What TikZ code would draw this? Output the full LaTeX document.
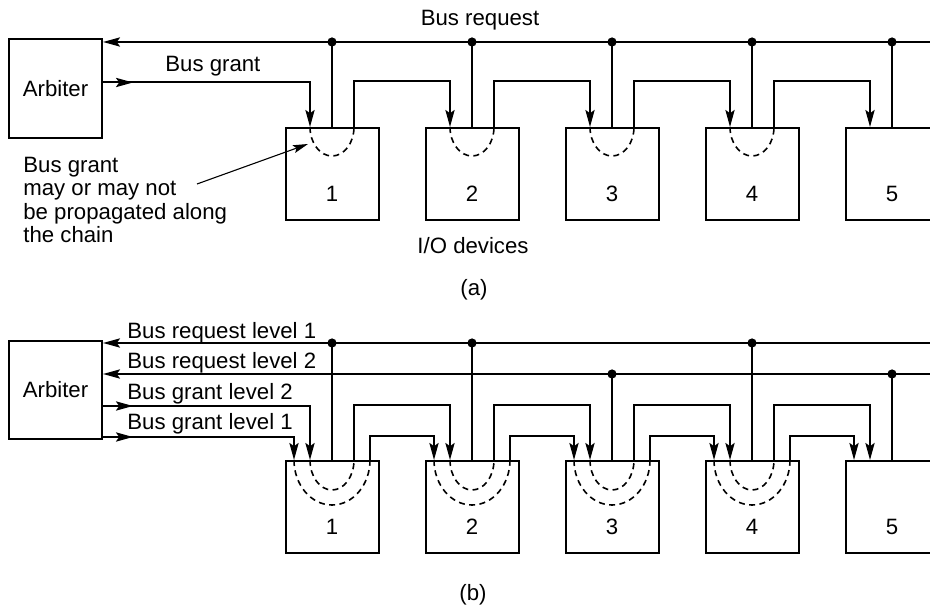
\documentclass[tikz,border=0pt]{standalone}
\usepackage{fontspec}
\setmainfont{Liberation Sans}
\usetikzlibrary{arrows.meta,calc,decorations.markings}
\tikzset{
  bus/.style={line width=1pt},
  arrowend/.style={-{Stealth[length=8.5pt,width=4.6pt,inset=1.6pt]}},
  midarrow/.style={postaction={decorate},
    decoration={markings, mark=at position 15pt with {\arrow{Stealth[length=8.5pt,width=4.6pt,inset=1.6pt]}}}},
  dev/.style={draw, line width=1pt, minimum width=46.5pt, minimum height=46pt, inner sep=0pt},
  arb/.style={draw, line width=1pt, minimum width=46.5pt, inner sep=0pt, font=\fontsize{11.1}{11.65}\selectfont},
  lbl/.style={inner sep=0pt, font=\fontsize{11.1}{11.65}\selectfont},
  dsh/.style={line width=0.8pt, dash pattern=on 3pt off 2.2pt},
  notearrow/.style={line width=0.55pt, -{Stealth[length=7.5pt,width=4pt,inset=1.4pt]}}
}
\begin{document}
\begin{tikzpicture}[x=0.5pt,y=-0.5pt]
\clip (0,0) rectangle (930,608);
% ---------------- (a) ----------------
\node[arb, minimum height=49.5pt] (arbA) at (55.5,88.5) {Arbiter};
\foreach \i/\c in {1/332,2/472,3/612,4/752,5/892}{
  \node[dev] (a\i) at (\c,174) {};
  \node[lbl, anchor=base] (na\i) at (\c,202) {\i};
}
\coordinate (reqA) at (935,42);
\draw[bus,arrowend] (reqA) -- (reqA -| arbA.east);
\foreach \i in {1,...,5}{
  \draw[bus] (reqA -| a\i.north) -- (a\i.north);
  \fill (reqA -| a\i.north) circle (2.3pt);
}
\coordinate (gA) at (0,82.5);
\draw[bus,arrowend,midarrow] (gA -| arbA.east) -| ($(a1.north)+(-22,0)$);
\foreach \i/\j in {1/2,2/3,3/4,4/5}{
  \draw[bus,arrowend] ($(a\i.north)+(22,0)$) -- ($(a\i.north)+(22,-45.5)$) -| ($(a\j.north)+(-22,0)$);
  \draw[dsh] ($(a\i.north)+(-22,0)$) arc[start angle=180,end angle=360,x radius=11pt,y radius=14.5pt];
}
\node[lbl, anchor=base] (busreq) at (480,26) {Bus request};
\node[lbl, anchor=base west] (busgrant) at (165,72) {Bus grant};
\node[lbl, anchor=north west, align=left] (note) at (23,157) {Bus grant\\may or may not\\be propagated along\\the chain};
\coordinate (noteFrom) at (197,184);
\coordinate (noteTip) at (308,144);
\draw[notearrow] (noteFrom) -- (noteTip);
\node[lbl, anchor=base] (iodev) at (473,254) {I/O devices};
\node[lbl, anchor=base] (capa) at (474,296) {(a)};
% ---------------- (b) ----------------
\node[arb, minimum height=49pt] (arbB) at (55.5,390) {Arbiter};
\foreach \i/\c in {1/332,2/472,3/612,4/752,5/892}{
  \node[dev] (b\i) at (\c,507) {};
  \node[lbl, anchor=base] (nb\i) at (\c,534) {\i};
}
\coordinate (r1) at (935,343);
\coordinate (r2) at (935,374);
\draw[bus,arrowend] (r1) -- (r1 -| arbB.east);
\draw[bus,arrowend] (r2) -- (r2 -| arbB.east);
\foreach \i in {1,2,4}{
  \draw[bus] (r1 -| b\i.north) -- (b\i.north);
  \fill (r1 -| b\i.north) circle (2.3pt);
}
\foreach \i in {3,5}{
  \draw[bus] (r2 -| b\i.north) -- (b\i.north);
  \fill (r2 -| b\i.north) circle (2.3pt);
}
\coordinate (g2) at (0,406);
\coordinate (g1) at (0,437);
\draw[bus,arrowend,midarrow] (g2 -| arbB.east) -| ($(b1.north)+(-22,0)$);
\draw[bus,arrowend,midarrow] (g1 -| arbB.east) -| ($(b1.north)+(-38,0)$);
\foreach \i/\j in {1/2,2/3,3/4,4/5}{
  \draw[bus,arrowend] ($(b\i.north)+(22,0)$) -- ($(b\i.north)+(22,-55)$) -| ($(b\j.north)+(-22,0)$);
  \draw[bus,arrowend] ($(b\i.north)+(38,0)$) -- ($(b\i.north)+(38,-24)$) -| ($(b\j.north)+(-38,0)$);
  \draw[dsh] ($(b\i.north)+(-22,0)$) arc[start angle=180,end angle=360,x radius=11pt,y radius=15pt];
  \draw[dsh] ($(b\i.north)+(-38,0)$) arc[start angle=180,end angle=360,x radius=19pt,y radius=22.5pt];
}
\node[lbl, anchor=base west] (lr1) at (127,338.5) {Bus request level 1};
\node[lbl, anchor=base west] (lr2) at (127,368.5) {Bus request level 2};
\node[lbl, anchor=base west] (lg2) at (127,399.5) {Bus grant level 2};
\node[lbl, anchor=base west] (lg1) at (127,429.5) {Bus grant level 1};
\node[lbl, anchor=base] (capb) at (473,600) {(b)};
\end{tikzpicture}
\end{document}
